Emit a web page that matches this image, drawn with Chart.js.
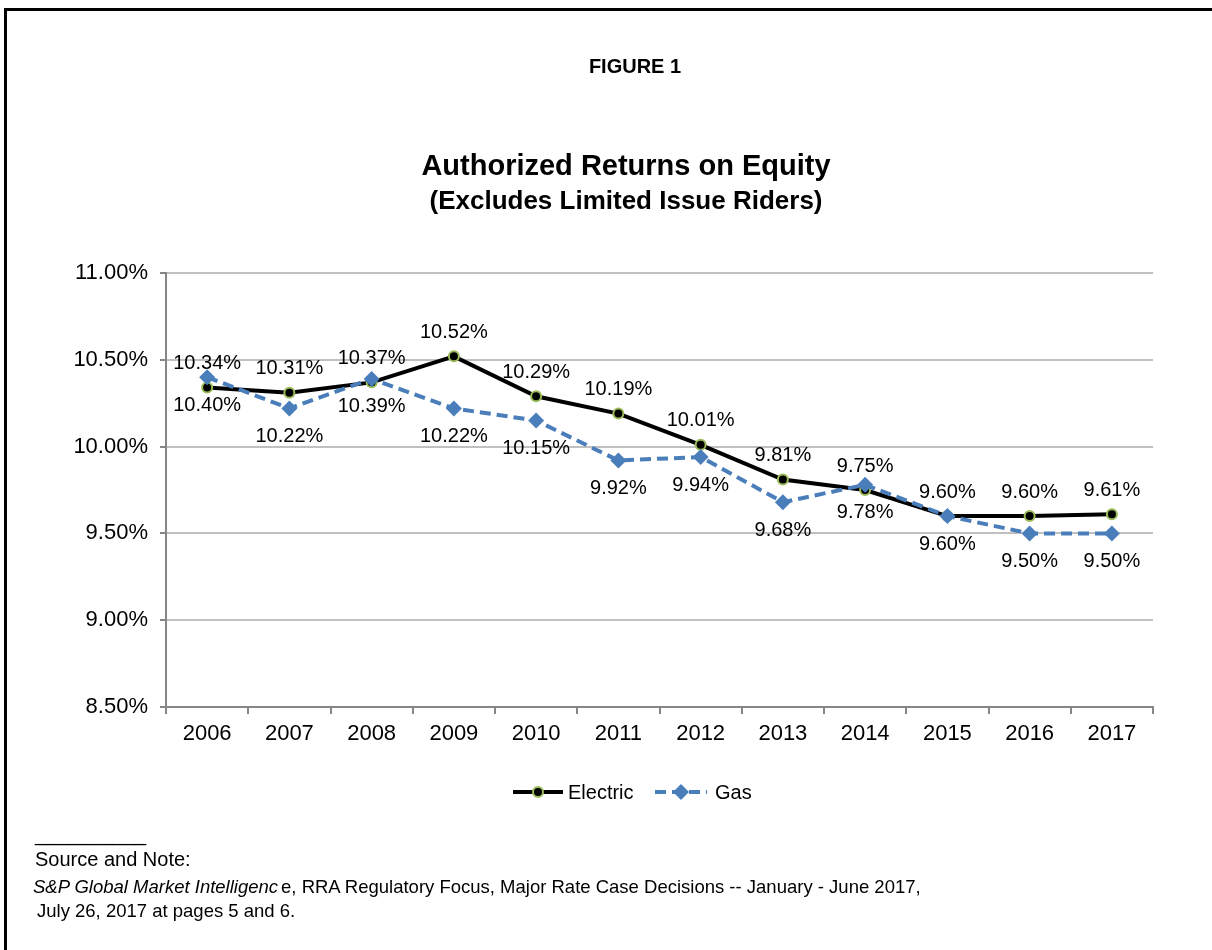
<!DOCTYPE html>
<html>
<head>
<meta charset="utf-8">
<script src="https://cdn.jsdelivr.net/npm/chart.js@4.4.0/dist/chart.umd.min.js"></script>
<style>
  html, body { margin: 0; padding: 0; background: #fff; overflow: hidden; }
  body { width: 1212px; height: 950px; position: relative; font-family: "Liberation Sans", Arial, sans-serif; color: #000; }
  #frame { position: absolute; left: 4px; top: 8px; width: 1300px; height: 1000px; border-left: 3px solid #000; border-top: 3px solid #000; }
  #wrap { position: absolute; left: 0; top: 0; width: 1212px; height: 950px; }
  .head { position: absolute; left: 0; width: 1252px; text-align: center; font-weight: bold; white-space: nowrap; }
  #fig { top: 55px; font-size: 20px; width: 1270px; }
  #title { top: 149px; font-size: 29px; }
  #sub { top: 185px; font-size: 26px; }
  .note { position: absolute; left: 35px; font-size: 18.5px; white-space: nowrap; }
</style>
</head>
<body>
<div id="frame"></div>
<div id="wrap"><canvas id="roeChart" width="1212" height="950"></canvas></div>
<div class="head" id="fig">FIGURE 1</div>
<div class="head" id="title">Authorized Returns on Equity</div>
<div class="head" id="sub">(Excludes Limited Issue Riders)</div>
<div class="note" style="top:823px; font-size:20px">__________</div>
<div class="note" style="top:848px; font-size:20px">Source and Note:</div>
<div class="note" style="top:876px; left:33px"><i>S&amp;P Global Market Intelligenc</i><span style="margin-left:3px">e, RRA Regulatory Focus, Major Rate Case Decisions -- January - June 2017,</span></div>
<div class="note" style="top:900px; left:37px">July 26, 2017 at pages 5 and 6.</div>
<script>
// years on the category axis
var years = ['2006', '2007', '2008', '2009', '2010', '2011', '2012', '2013', '2014', '2015', '2016', '2017'];
// authorized ROE, percent
var electricRoe = [10.34, 10.31, 10.37, 10.52, 10.29, 10.19, 10.01, 9.81, 9.75, 9.60, 9.60, 9.61];
var gasRoe = [10.40, 10.22, 10.39, 10.22, 10.15, 9.92, 9.94, 9.68, 9.78, 9.60, 9.50, 9.50];
// y axis range and step
var yMin = 8.5, yMax = 11.0, yStep = 0.5;

var FONT = '"Liberation Sans", Arial, sans-serif';
var BLUE = '#4a7ebb';
var GREEN = '#9bbb59';

// value labels: electric above the line, gas below
var valueLabels = {
    id: 'valueLabels',
    afterDatasetsDraw: function (chart) {
        var ctx = chart.ctx;
        ctx.save();
        ctx.font = '20px ' + FONT;
        ctx.fillStyle = '#000';
        ctx.textAlign = 'center';
        ctx.textBaseline = 'middle';
        chart.data.datasets.forEach(function (ds, i) {
            var meta = chart.getDatasetMeta(i);
            var shift = i === 0 ? -24 : 28;
            meta.data.forEach(function (pt, j) {
                ctx.fillText(ds.data[j].toFixed(2) + '%', pt.x, pt.y + shift);
            });
        });
        ctx.restore();
    }
};

// legend with line + marker samples
var lineLegend = {
    id: 'lineLegend',
    afterDraw: function (chart) {
        var ctx = chart.ctx;
        var y = 792;
        var items = [{ x: 513, len: 50 }, { x: 655, len: 52 }];
        ctx.save();
        ctx.font = '20px ' + FONT;
        ctx.textBaseline = 'middle';
        chart.data.datasets.forEach(function (ds, i) {
            var x0 = items[i].x, x1 = x0 + items[i].len, mx = (x0 + x1) / 2;
            ctx.strokeStyle = ds.borderColor;
            ctx.lineWidth = ds.borderWidth;
            ctx.setLineDash(ds.borderDash || []);
            ctx.beginPath();
            ctx.moveTo(x0, y);
            ctx.lineTo(x1, y);
            ctx.stroke();
            ctx.setLineDash([]);
            ctx.fillStyle = ds.pointBackgroundColor;
            ctx.strokeStyle = ds.pointBorderColor;
            ctx.lineWidth = ds.pointBorderWidth;
            ctx.beginPath();
            if (ds.pointStyle === 'circle') {
                ctx.arc(mx, y, ds.pointRadius, 0, Math.PI * 2);
            } else {
                var r = ds.pointRadius;
                ctx.moveTo(mx, y - r); ctx.lineTo(mx + r, y); ctx.lineTo(mx, y + r); ctx.lineTo(mx - r, y); ctx.closePath();
            }
            ctx.fill();
            if (ds.pointBorderWidth) ctx.stroke();
            ctx.fillStyle = '#000';
            ctx.fillText(ds.label, x1 + (i === 1 ? 8 : 5), y + 1);
        });
        ctx.restore();
    }
};

var ctx = document.getElementById('roeChart').getContext('2d');
var roeChart = new Chart(ctx, {
    type: 'line',
    data: {
        labels: years,
        datasets: [{
            label: 'Electric',
            data: electricRoe,
            borderColor: '#000',
            borderWidth: 4,
            pointStyle: 'circle',
            pointRadius: 5,
            pointBackgroundColor: '#000',
            pointBorderColor: GREEN,
            pointBorderWidth: 2,
            tension: 0,
            order: 2
        }, {
            label: 'Gas',
            data: gasRoe,
            borderColor: BLUE,
            borderWidth: 4,
            borderDash: [11, 6],
            pointStyle: 'rectRot',
            pointRadius: 8,
            pointBackgroundColor: BLUE,
            pointBorderColor: BLUE,
            pointBorderWidth: 0,
            tension: 0,
            order: 1
        }]
    },
    options: {
        responsive: false,
        animation: false,
        layout: { padding: { left: 0, top: 273, right: 59, bottom: 183 } },
        plugins: { legend: { display: false }, tooltip: { enabled: false } },
        scales: {
            x: {
                offset: true,
                afterFit: function (scale) { scale.height = 60; },
                grid: { offset: true, drawOnChartArea: false, tickLength: 7, tickColor: '#868686', lineWidth: 2 },
                border: { color: '#868686', width: 2 },
                ticks: { color: '#000', font: { family: FONT, size: 22 }, padding: 7, maxRotation: 0 }
            },
            y: {
                min: yMin,
                max: yMax,
                afterFit: function (scale) { scale.width = 166; },
                grid: { color: '#c0c0c0', lineWidth: 2, tickLength: 6, tickColor: '#868686' },
                border: { color: '#868686', width: 2 },
                ticks: {
                    stepSize: yStep,
                    color: '#000',
                    font: { family: FONT, size: 22 },
                    padding: 12,
                    callback: function (v) { return v.toFixed(2) + '%'; }
                }
            }
        }
    },
    plugins: [valueLabels, lineLegend]
});
</script>
</body>
</html>
